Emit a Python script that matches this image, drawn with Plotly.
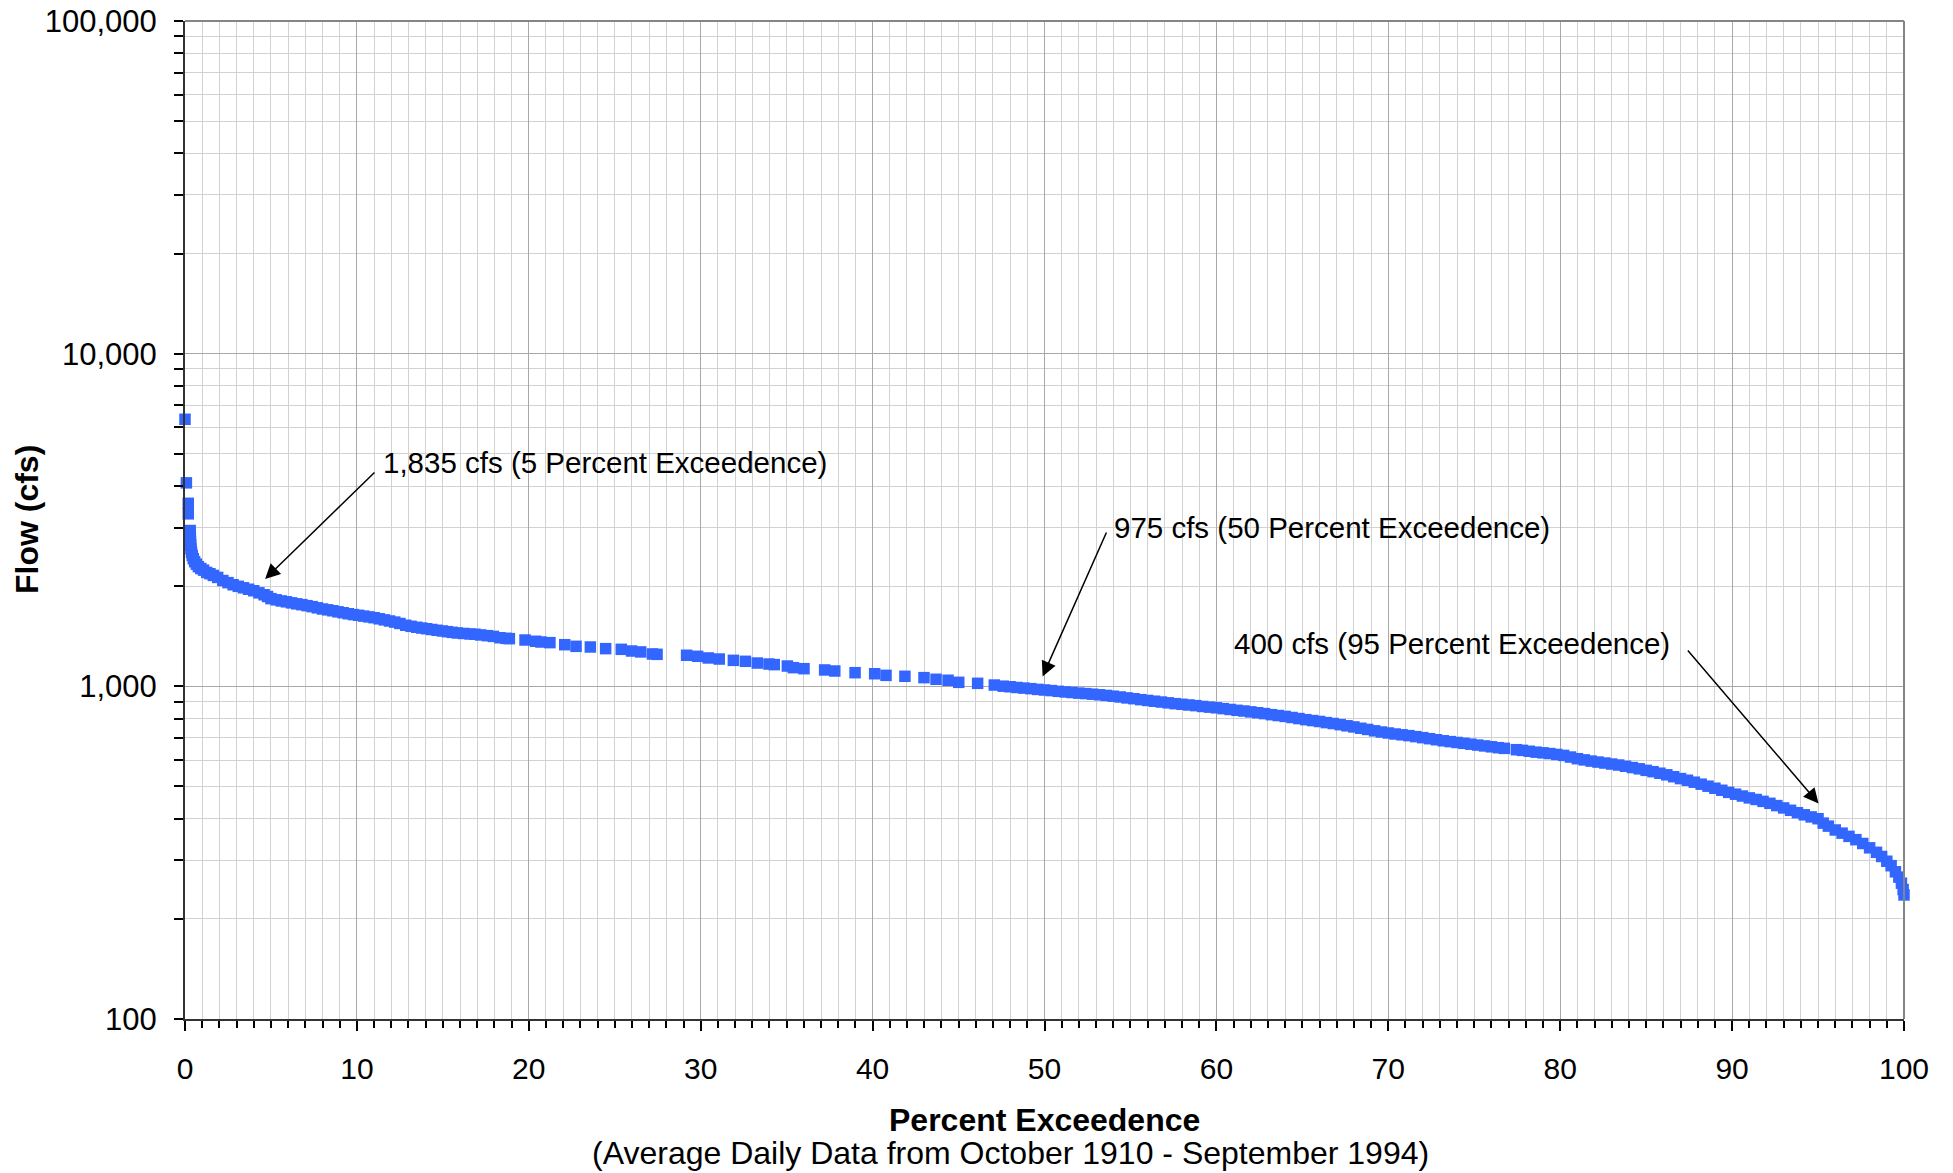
import plotly.graph_objects as go

# Flow-duration curve: percent of time each daily flow was equalled or exceeded
percent_exceeded = [
    0.0, 0.08, 0.19, 0.19,
    0.30, 0.30, 0.31, 0.32, 0.33, 0.35, 0.38, 0.42, 0.48, 0.56, 0.66, 0.78, 0.92,
    1.08, 1.26, 1.45, 1.65, 1.90, 2.20, 2.50, 2.80, 3.10, 3.40, 3.70, 4.00, 4.30,
    4.60, 4.80, 5.00, 5.30, 5.60, 5.90, 6.20, 6.50, 6.80, 7.10, 7.40, 7.70, 8.00,
    8.30, 8.60, 8.90, 9.20, 9.50, 9.80, 10.10, 10.40, 10.70, 11.00, 11.30, 11.60,
    11.90, 12.20, 12.50, 12.84, 13.15, 13.48, 13.77, 14.06, 14.36, 14.66, 14.97,
    15.26, 15.55, 15.84, 16.20, 16.58, 16.87, 17.20, 17.59, 17.94, 18.32, 18.67,
    18.87,
    19.78, 20.40, 20.71, 21.23, 22.09, 22.75, 23.58, 24.47, 25.38, 25.98, 26.51,
    27.19, 27.46, 29.18, 29.82, 30.44, 31.08, 31.90, 32.60, 33.29, 33.97, 34.28,
    35.04, 35.39, 36.01, 37.21, 37.80, 38.98, 40.12, 40.78, 41.88, 42.99, 43.69,
    44.39, 45.01, 46.11, 47.08,
    47.6, 48.0, 48.4, 48.8, 49.2, 49.6, 50.0, 50.4, 50.8, 51.2, 51.6, 52.0, 52.4,
    52.8, 53.2, 53.6, 54.0, 54.4, 54.8, 55.2, 55.6, 56.0, 56.4, 56.8, 57.2, 57.6,
    58.0, 58.4, 58.8, 59.2, 59.6, 60.0, 60.4, 60.8, 61.2, 61.6, 62.0, 62.4, 62.8,
    63.2, 63.6, 64.0, 64.4, 64.8, 65.2, 65.6, 66.0, 66.4, 66.8, 67.2, 67.6, 68.0,
    68.4, 68.8, 69.2, 69.6, 70.0, 70.4, 70.8, 71.2, 71.6, 72.0, 72.4, 72.8, 73.2,
    73.6, 74.0, 74.4, 74.8, 75.2, 75.6, 76.0, 76.4, 76.75, 77.45, 77.8, 78.2, 78.6,
    79.0, 79.4, 79.8, 80.2, 80.6, 81.0, 81.4, 81.8, 82.2, 82.6, 83.0, 83.4, 83.8,
    84.2, 84.6, 85.0, 85.4, 85.8, 86.2, 86.6, 87.0, 87.4, 87.8, 88.2, 88.6, 89.0,
    89.4, 89.8, 90.2, 90.6, 91.0, 91.4, 91.8, 92.2, 92.6, 93.0, 93.4, 93.8, 94.2,
    94.6, 95.0, 95.3, 95.6, 96.0, 96.4, 96.8, 97.2, 97.6, 98.0, 98.4, 98.7, 99.0,
    99.25, 99.5, 99.7, 99.85, 99.95, 100.0,
]

flow_cfs = [
    6350, 4090, 3550, 3300,
    2940, 2870, 2800, 2730, 2660, 2590, 2530, 2475, 2420, 2370, 2330, 2290, 2260,
    2235, 2200, 2180, 2155, 2125, 2080, 2050, 2020, 1998, 1978, 1958, 1938, 1910,
    1885, 1862, 1835, 1820, 1806, 1795, 1782, 1770, 1760, 1748, 1736, 1722, 1708,
    1698, 1687, 1675, 1664, 1653, 1643, 1635, 1626, 1617, 1608, 1596, 1584,
    1572, 1560, 1545, 1526, 1515, 1505, 1497, 1490, 1482, 1474, 1467,
    1460, 1453, 1447, 1442, 1437, 1434, 1427, 1420, 1413, 1400, 1394,
    1391,
    1378, 1366, 1359, 1353, 1334, 1319, 1313, 1298, 1292, 1277, 1269,
    1251, 1248, 1240, 1231, 1217, 1208, 1197, 1189, 1175, 1167, 1162,
    1151, 1138, 1130, 1120, 1112, 1099, 1091, 1079, 1072, 1062, 1050,
    1043, 1028, 1021, 1009,
    1001, 997, 992, 988, 984, 979, 975, 971, 966, 962, 958, 954, 951,
    947, 943, 939, 934, 929, 923, 918, 912, 907, 902, 897, 892, 887,
    883, 879, 875, 870, 866, 862, 857, 852, 847, 843, 838, 833, 828,
    822, 817, 812, 806, 800, 794, 789, 784, 778, 773, 767, 761, 755,
    748, 742, 735, 729, 724, 719, 715, 711, 706, 701, 696, 691, 686,
    682, 678, 674, 670, 666, 662, 658, 654, 651, 645, 642, 638, 634,
    631, 628, 624, 620, 613, 606, 601, 596, 592, 588, 584, 580, 575,
    570, 565, 559, 554, 548, 542, 535, 528, 522, 515, 508, 501, 494,
    487, 480, 474, 468, 462, 457, 451, 445, 438, 431, 424, 417, 411,
    405, 400, 388, 380, 370, 362, 354, 346, 337, 327, 317, 308, 298,
    289, 277, 267, 256, 245, 236,
]

# Axis tick labels
flow_tick_values = [100, 1000, 10000, 100000]
flow_tick_labels = ["100", "1,000", "10,000", "100,000"]
percent_tick_values = [0, 10, 20, 30, 40, 50, 60, 70, 80, 90, 100]
percent_tick_labels = [str(v) for v in percent_tick_values]

# Callouts: (label, arrow tip, arrow tail, text anchor) in data units (log10 for flow)
callout_labels = [
    "1,835 cfs (5 Percent Exceedence)",
    "975 cfs (50 Percent Exceedence)",
    "400 cfs (95 Percent Exceedence)",
]
callout_tip_x = [4.66, 49.89, 95.03]
callout_tip_logy = [3.3226, 3.0298, 2.6481]
callout_tail_x = [11.11, 53.64, 87.35]
callout_tail_logy = [3.6473, 3.4669, 3.1122]
callout_text_x = [11.40, 53.90, 60.90]
callout_text_logy = [3.6743, 3.4789, 3.1302]

FONT = "Liberation Sans, Arial, sans-serif"
BLUE = "#3366FF"

fig = go.Figure()
fig.add_trace(
    go.Scatter(
        x=percent_exceeded,
        y=flow_cfs,
        mode="markers",
        marker=dict(symbol="square", size=11.5, color=BLUE, line=dict(width=0)),
        cliponaxis=False,
        showlegend=False,
        hovertemplate="%{x}%%: %{y} cfs<extra></extra>",
    )
)

annotations = []
for tx, ty, ax, ay in zip(callout_tip_x, callout_tip_logy, callout_tail_x, callout_tail_logy):
    annotations.append(
        dict(
            x=tx, y=ty, xref="x", yref="y",
            ax=ax, ay=ay, axref="x", ayref="y",
            text="", showarrow=True,
            arrowhead=2, arrowsize=2, arrowwidth=1.5, arrowcolor="#000000",
        )
    )
for label, lx, ly in zip(callout_labels, callout_text_x, callout_text_logy):
    annotations.append(
        dict(
            x=lx, y=ly, xref="x", yref="y",
            text=label, showarrow=False,
            xanchor="left", yanchor="middle",
            font=dict(family=FONT, size=29.5, color="#000000"),
        )
    )

# Axis titles
annotations.append(
    dict(
        x=-0.0919, y=0.5, xref="paper", yref="paper",
        text="<b>Flow (cfs)</b>", textangle=-90, showarrow=False,
        xanchor="center", yanchor="middle",
        font=dict(family=FONT, size=32, color="#000000"),
    )
)
annotations.append(
    dict(
        x=0.5, y=-0.1012, xref="paper", yref="paper",
        text="<b>Percent Exceedence</b>", showarrow=False,
        xanchor="center", yanchor="middle",
        font=dict(family=FONT, size=32, color="#000000"),
    )
)
annotations.append(
    dict(
        x=0.480, y=-0.1343, xref="paper", yref="paper",
        text="(Average Daily Data from October 1910 - September 1994)", showarrow=False,
        xanchor="center", yanchor="middle",
        font=dict(family=FONT, size=32, color="#000000"),
    )
)

fig.update_layout(
    width=1953,
    height=1173,
    margin=dict(l=185, r=49, t=21, b=154, autoexpand=False),
    paper_bgcolor="#ffffff",
    plot_bgcolor="#ffffff",
    font=dict(family=FONT, size=30, color="#000000"),
    annotations=annotations,
    shapes=[
        dict(type="line", xref="paper", yref="paper", x0=0, x1=1, y0=1, y1=1,
             line=dict(color="#858585", width=2)),
        dict(type="line", xref="paper", yref="paper", x0=1, x1=1, y0=0, y1=1,
             line=dict(color="#858585", width=2)),
    ],
)

fig.update_xaxes(
    range=[0, 100],
    automargin=False,
    tickmode="array",
    tickvals=percent_tick_values,
    ticktext=percent_tick_labels,
    ticks="outside", ticklen=10, tickwidth=1.5, tickcolor="#000000",
    ticklabelstandoff=12,
    tickfont=dict(family=FONT, size=30, color="#000000"),
    showgrid=True, gridcolor="#a8a8a8", gridwidth=1,
    showline=True, linecolor="#333333", linewidth=2, mirror=False,
    zeroline=False,
    minor=dict(dtick=1, tick0=0, ticks="outside", ticklen=7, tickwidth=1.5,
               tickcolor="#000000", showgrid=True, gridcolor="#d2d2d2", gridwidth=1),
)

fig.update_yaxes(
    type="log",
    range=[2, 5],
    automargin=False,
    tickmode="array",
    tickvals=flow_tick_values,
    ticktext=flow_tick_labels,
    ticks="outside", ticklen=9, tickwidth=1.5, tickcolor="#000000",
    ticklabelstandoff=11,
    tickfont=dict(family=FONT, size=31, color="#000000"),
    showgrid=True, gridcolor="#a8a8a8", gridwidth=1,
    showline=True, linecolor="#333333", linewidth=2, mirror=False,
    zeroline=False,
    minor=dict(dtick="D1", ticks="outside", ticklen=9, tickwidth=1.5,
               tickcolor="#000000", showgrid=True, gridcolor="#d2d2d2", gridwidth=1),
)

fig.write_html("out.html")
